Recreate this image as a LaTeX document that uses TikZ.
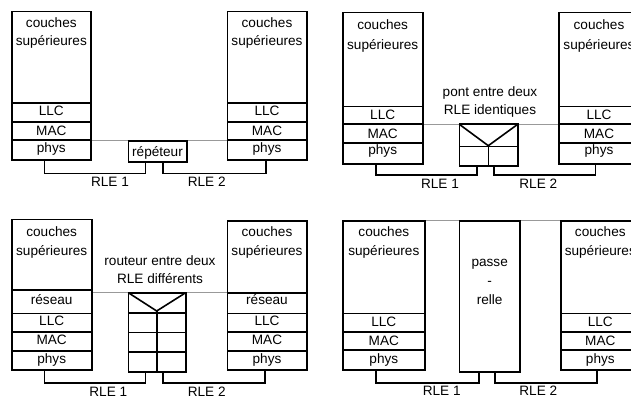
\documentclass[tikz,border=0pt]{standalone}
\usepackage{fontspec}
\setmainfont{Liberation Sans}
\begin{document}
\begin{tikzpicture}[x=0.75pt,y=-0.75pt,
  box/.style={draw=black,line width=1.2pt},
  conn/.style={draw=black,line width=1.2pt},
  grayline/.style={draw=black!40,line width=0.9pt},
  lbl/.style={font=\fontsize{10.2}{12}\selectfont,inner sep=0pt,anchor=base}]
\useasboundingbox (0,0) rectangle (631,399);
\clip (0,0) rectangle (631,399);

% ---------------- Panel 1 : repeteur
\draw[grayline] (91,140.3) -- (227.3,140.3);
\draw[box] (11.7,11.7) rectangle (91,160);
\draw[box] (11.7,103.3) -- (91,103.3) (11.7,122.3) -- (91,122.3) (11.7,140.3) -- (91,140.3);
\node[lbl] (a1) at (51.3,27.3) {couches};
\node[lbl] (a2) at (51.3,45.7) {supérieures};
\node[lbl] (a3) at (51.3,116) {LLC};
\node[lbl] (a4) at (51.3,135.7) {MAC};
\node[lbl] (a5) at (51.3,152.3) {phys};
\draw[box] (227.3,11.7) rectangle (306.7,160);
\draw[box] (227.3,103.3) -- (306.7,103.3) (227.3,122.3) -- (306.7,122.3) (227.3,140.3) -- (306.7,140.3);
\node[lbl] (b1) at (267,27.3) {couches};
\node[lbl] (b2) at (267,45.7) {supérieures};
\node[lbl] (b3) at (267,116) {LLC};
\node[lbl] (b4) at (267,135.7) {MAC};
\node[lbl] (b5) at (267,152.3) {phys};
\draw[box,fill=white] (128.3,141) rectangle (186.7,161.7);
\node[lbl] (rep) at (157.5,156.7) {répéteur};
\coordinate (p1a) at (44.3,160);
\coordinate (p1b) at (145.3,161.7);
\coordinate (p1c) at (162.7,161.7);
\coordinate (p1d) at (265.7,160);
\draw[conn] (p1a) -- (44.3,173.3) -| (p1b);
\draw[conn] (p1c) -- (162.7,173.3) -| (p1d);
\node[lbl] (r11) at (110,186.7) {RLE 1};
\node[lbl] (r12) at (206.7,186.7) {RLE 2};

% ---------------- Panel 2 : pont
\draw[grayline] (422.7,124.3) -- (559,124.3);
\draw[box] (342.7,12.7) rectangle (422.7,164);
\draw[box] (342.7,106.7) -- (422.7,106.7) (342.7,124.3) -- (422.7,124.3) (342.7,143.3) -- (422.7,143.3);
\node[lbl] (c1) at (382.7,30) {couches};
\node[lbl] (c2) at (382.7,49.3) {supérieures};
\node[lbl] (c3) at (382.7,120) {LLC};
\node[lbl] (c4) at (382.7,139) {MAC};
\node[lbl] (c5) at (382.7,155) {phys};
\draw[box] (559,12.7) rectangle (639,164);
\draw[box] (559,106.7) -- (639,106.7) (559,124.3) -- (639,124.3) (559,143.3) -- (639,143.3);
\node[lbl] (d1) at (599,30) {couches};
\node[lbl] (d2) at (599,49.3) {supérieures};
\node[lbl] (d3) at (599,120) {LLC};
\node[lbl] (d4) at (599,139) {MAC};
\node[lbl] (d5) at (599,155) {phys};
\node[lbl] (pl1) at (490,96.7) {pont entre deux};
\node[lbl] (pl2) at (490,115) {RLE identiques};
\draw[box,fill=white] (459.3,124.3) rectangle (517.7,165.7);
\draw[box] (459.3,124.3) -- (488.3,145.7) -- (517.7,124.3);
\draw[box] (459.3,146.7) -- (517.7,146.7) (488.3,145.7) -- (488.3,165.7);
\coordinate (p2a) at (376,164);
\coordinate (p2b) at (476.7,165.7);
\coordinate (p2c) at (494,165.7);
\coordinate (p2d) at (595.3,164);
\draw[conn] (p2a) -- (376,175) -| (p2b);
\draw[conn] (p2c) -- (494,175) -| (p2d);
\node[lbl] (r21) at (440,188.3) {RLE 1};
\node[lbl] (r22) at (538.3,188.3) {RLE 2};

% ---------------- Panel 3 : routeur
\draw[grayline] (91.7,292.7) -- (227.3,292.7);
\draw[box] (11.7,219.3) rectangle (91.7,370);
\draw[box] (11.7,290) -- (91.7,290) (11.7,313.3) -- (91.7,313.3) (11.7,331.7) -- (91.7,331.7) (11.7,350.7) -- (91.7,350.7);
\node[lbl] (e1) at (51.7,236) {couches};
\node[lbl] (e2) at (51.7,255) {supérieures};
\node[lbl] (e3) at (51.7,304) {réseau};
\node[lbl] (e4) at (51.7,325) {LLC};
\node[lbl] (e5) at (51.7,344.3) {MAC};
\node[lbl] (e6) at (51.7,363.3) {phys};
\draw[box] (227.3,220.7) rectangle (306.7,370);
\draw[box] (227.3,292.7) -- (306.7,292.7) (227.3,313.3) -- (306.7,313.3) (227.3,331.7) -- (306.7,331.7) (227.3,350.7) -- (306.7,350.7);
\node[lbl] (f1) at (267,236) {couches};
\node[lbl] (f2) at (267,255) {supérieures};
\node[lbl] (f3) at (267,304) {réseau};
\node[lbl] (f4) at (267,325) {LLC};
\node[lbl] (f5) at (267,344.3) {MAC};
\node[lbl] (f6) at (267,363.3) {phys};
\node[lbl] (rl1) at (160,265) {routeur entre deux};
\node[lbl] (rl2) at (160,283.3) {RLE différents};
\draw[box,fill=white] (128.3,292.7) rectangle (185.7,371.7);
\draw[box] (128.3,292.7) -- (156.7,311) -- (185.7,292.7);
\draw[box] (128.3,312.7) -- (185.7,312.7) (128.3,332.3) -- (185.7,332.3) (128.3,351.7) -- (185.7,351.7) (156.7,311) -- (156.7,371.7);
\coordinate (p3a) at (44.3,370);
\coordinate (p3b) at (145.3,371.7);
\coordinate (p3c) at (162.7,371.7);
\coordinate (p3d) at (265,370);
\draw[conn] (p3a) -- (44.3,382.7) -| (p3b);
\draw[conn] (p3c) -- (162.7,382.7) -| (p3d);
\node[lbl] (r31) at (108.3,396.7) {RLE 1};
\node[lbl] (r32) at (206.7,396.7) {RLE 2};

% ---------------- Panel 4 : passerelle
\draw[grayline] (425,220.7) -- (459.3,220.7) (520,220.7) -- (560.7,220.7);
\draw[box] (342.7,220.7) rectangle (425,370);
\draw[box] (342.7,313.3) -- (425,313.3) (342.7,331.7) -- (425,331.7) (342.7,350) -- (425,350);
\node[lbl] (g1) at (383.8,236) {couches};
\node[lbl] (g2) at (383.8,255) {supérieures};
\node[lbl] (g3) at (383.8,326) {LLC};
\node[lbl] (g4) at (383.8,345) {MAC};
\node[lbl] (g5) at (383.8,363.3) {phys};
\draw[box] (560.7,220.7) rectangle (640,370);
\draw[box] (560.7,313.3) -- (640,313.3) (560.7,331.7) -- (640,331.7) (560.7,350) -- (640,350);
\node[lbl] (h1) at (600.3,236) {couches};
\node[lbl] (h2) at (600.3,255) {supérieures};
\node[lbl] (h3) at (600.3,326) {LLC};
\node[lbl] (h4) at (600.3,345) {MAC};
\node[lbl] (h5) at (600.3,363.3) {phys};
\draw[box] (459.3,220.7) rectangle (520,371.7);
\node[lbl] (gw1) at (489.7,266.7) {passe};
\node[lbl] (gw2) at (489.7,285.3) {-};
\node[lbl] (gw3) at (489.7,304.3) {relle};
\coordinate (p4a) at (376,370);
\coordinate (p4b) at (478.7,371.7);
\coordinate (p4c) at (495,371.7);
\coordinate (p4d) at (596.7,370);
\draw[conn] (p4a) -- (376,382.7) -| (p4b);
\draw[conn] (p4c) -- (495,382.7) -| (p4d);
\node[lbl] (r41) at (441.7,395.7) {RLE 1};
\node[lbl] (r42) at (538.3,395.7) {RLE 2};
\end{tikzpicture}
\end{document}
